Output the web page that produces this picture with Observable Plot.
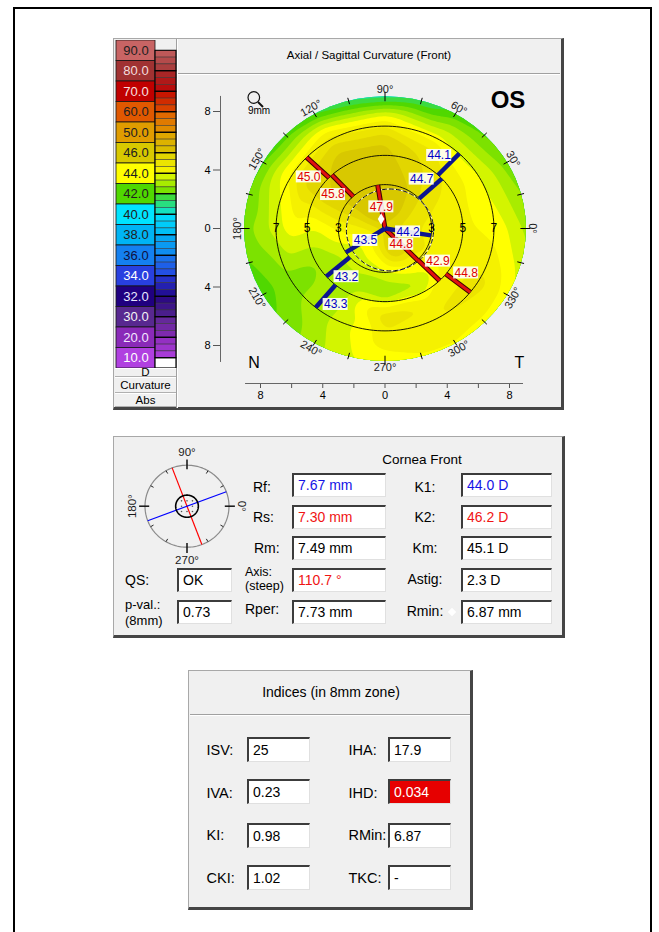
<!DOCTYPE html>
<html>
<head>
<meta charset="utf-8">
<script src="https://cdn.jsdelivr.net/npm/d3@7"></script>
<script src="https://cdn.jsdelivr.net/npm/@observablehq/plot@0.6"></script>
<style>
html,body{margin:0;padding:0;background:#fff;}
body{font-family:"Liberation Sans",Arial,sans-serif;color:#000;}
#page{position:relative;width:659px;height:932px;overflow:hidden;}
.a{position:absolute;}
.t{position:absolute;white-space:nowrap;line-height:0.85;}
.c{transform:translate(-50%,-50%);}
.l{transform:translate(0,-50%);}
.panel{position:absolute;background:#f0f0f0;box-sizing:border-box;border-top:1px solid #a8a8a8;border-left:1px solid #a8a8a8;border-right:3px solid #454545;border-bottom:3px solid #454545;}
.box{position:absolute;box-sizing:border-box;background:#fff;border-top:2px solid #3c3c3c;border-left:2px solid #3c3c3c;border-right:1px solid #e0e0e0;border-bottom:1px solid #e0e0e0;font-size:14px;padding-left:4px;white-space:nowrap;}
.sep{position:absolute;height:0;border-top:1px solid #a0a0a0;border-bottom:1px solid #fff;}
.lrow{position:absolute;box-sizing:border-box;left:115px;width:61px;background:#f0f0f0;border-top:1px solid #fff;border-bottom:1px solid #b0b0b0;font-size:11.5px;text-align:center;}
</style>
</head>
<body>
<div id="page">
  <div class="a" style="left:13px;top:7px;width:635px;height:940px;border:2px solid #000;"></div>
  <div class="panel" style="left:113px;top:38px;width:451px;height:372px;"></div>
  <div class="a" style="left:176px;top:39px;width:0;height:369px;border-left:1px solid #a0a0a0;border-right:1px solid #fff;"></div>
  <div class="sep" style="left:178px;top:73px;width:382px;"></div>
  <div class="t c" style="left:369px;top:56px;font-size:11.5px;">Axial / Sagittal Curvature (Front)</div>
  <div class="lrow" style="top:368px;height:9px;"></div>
  <div class="lrow" style="top:377px;height:16px;"></div>
  <div class="lrow" style="top:393px;height:14px;"></div>
  <div class="t c" style="left:145.5px;top:372.5px;font-size:11.5px;">D</div>
  <div class="t c" style="left:145.5px;top:386px;font-size:11.5px;">Curvature</div>
  <div class="t c" style="left:145.5px;top:400.5px;font-size:11.5px;">Abs</div>
  <div id="legend" class="a" style="left:115px;top:40px;"></div>
  <div id="map" class="a" style="left:180px;top:74px;"></div>

  <div class="panel" style="left:113px;top:436px;width:452px;height:202px;"></div>
  <div class="t c" style="left:422px;top:460px;font-size:13.5px;">Cornea Front</div>
  <div id="dial" class="a" style="left:124px;top:441px;"></div>

  <div class="panel" style="left:188px;top:670px;width:285px;height:240px;"></div>
  <div class="sep" style="left:190px;top:714px;width:280px;"></div>
  <div class="t c" style="left:331px;top:693px;font-size:14px;">Indices (in 8mm zone)</div>
</div>
<script>
// ================= DATA =================
// Colour legend (absolute curvature scale, D)
const legendValues = [90, 80, 70, 60, 50, 46, 44, 42, 40, 38, 36, 34, 32, 30, 20, 10];
const legendColors = ["#c86464","#a03232","#c00000","#e05800","#e09c00","#d8c800","#ffff00","#50d800",
                      "#00e4ff","#00b4f4","#1480f0","#2840e0","#200080","#582890","#8a2ab8","#b040e0"];
const legendTextColors = ["#202020","#f4dede","#f8e0e0","#202020","#202020","#202020","#202020","#202020",
                          "#202020","#202020","#101040","#ffffff","#e8e8ff","#f4f4f4","#f4e8ff","#ffffff"];

const sampleAngles = [0, 30, 60, 90, 120, 150, 180, 210, 240, 270, 300, 330];
const curvCenter = 45.7;
const curvR15 = [45.2, 45.6, 46.3, 47.2, 47.0, 45.9, 44.9, 44.1, 44.5, 45.6, 46.6, 46.0];
const curvR30 = [44.8, 45.2, 46.0, 46.9, 46.8, 45.9, 44.6, 43.7, 43.7, 43.9, 44.4, 45.0];
const curvR45 = [44.6, 44.9, 45.6, 46.3, 46.4, 45.9, 44.0, 43.1, 43.2, 42.9, 43.3, 44.7];
const curvR60 = [44.5, 44.5, 45.2, 46.0, 46.1, 45.6, 44.3, 42.8, 43.4, 45.4, 45.0, 45.0];
const curvR75 = [44.2, 43.8, 43.8, 44.5, 44.8, 44.2, 43.5, 42.7, 43.5, 44.8, 45.0, 45.1];
const edgeAngles = [0,15,30,45,60,75,90,105,120,135,150,165,180,195,210,225,240,255,270,285,300,315,330,345];
const curvEdge = [43.3, 42.9, 42.6, 42.3, 42.0, 41.3, 40.9, 41.1, 41.6, 42.0, 42.2, 42.4,
                  42.7, 42.4, 42.2, 42.6, 43.3, 43.9, 44.2, 44.4, 44.4, 44.3, 44.1, 43.7];

// Zone rings and pupil
const zoneRings = [3, 5, 7];
const pupilCenter = [0.32, -0.1];
const pupilRadius = 2.8;
const rminPoint = [{x: -0.25, y: 0.65}];

// Meridians: steep (red) and flat (blue) per zone
const merType  = ["steep","steep","steep","steep","steep","steep","flat","flat","flat","flat","flat","flat"];
const merR0    = [0, 0, 3, 3, 5, 5,   0, 0, 3, 3, 5, 5];
const merR1    = [3, 3, 5, 5, 7, 7,   3, 3, 5, 5, 7, 7];
const merAngle = [99, -46, 133, -45.5, 136, -38.5,   -9, 213, 43, 221, 47, 230.5];
const merValue = [47.9, 44.8, 45.8, 42.9, 45.0, 44.8,   44.2, 43.5, 44.7, 43.2, 44.1, 43.3];

// Angle labels and axis ticks
const angleTicks = [0,15,30,45,60,75,90,105,120,135,150,165,180,195,210,225,240,255,270,285,300,315,330,345];
const angleLabels = [0, 30, 60, 90, 120, 150, 180, 210, 240, 270, 300, 330];
const xTicks = [-8, -6, -4, -2, 0, 2, 4, 6, 8];
const yTicks = [-8, -4, 0, 4, 8];

// Cornea front
const steepAxis = 110.7;
const dialLabels = [90, 180, 270, 0];
const corneaLeftLabels = ["Rf:", "Rs:", "Rm:", "Axis:", "(steep)", "Rper:"];
const corneaLeftValues = ["7.67 mm", "7.30 mm", "7.49 mm", "110.7 °", "7.73 mm"];
const corneaLeftColors = ["#1414e6", "#f01414", "#000", "#f01414", "#000"];
const corneaRightLabels = ["K1:", "K2:", "Km:", "Astig:", "Rmin:"];
const corneaRightValues = ["44.0 D", "46.2 D", "45.1 D", "2.3 D", "6.87 mm"];
const corneaRightColors = ["#1414e6", "#f01414", "#000", "#000", "#000"];
const qsLabels = ["QS:", "p-val.:", "(8mm)"];
const qsValues = ["OK", "0.73"];

// Indices
const indexLeftLabels = ["ISV:", "IVA:", "KI:", "CKI:"];
const indexLeftValues = ["25", "0.23", "0.98", "1.02"];
const indexRightLabels = ["IHA:", "IHD:", "RMin:", "TKC:"];
const indexRightValues = ["17.9", "0.034", "6.87", "-"];
const indexAlert = [false, true, false, false];

// ================= BUILD =================
const FONT = "Liberation Sans, Arial, sans-serif";
const rad = a => a * Math.PI / 180;

// colour levels (main steps + 3 sub-steps between neighbours)
const levelVals = [], levelCols = [];
legendValues.forEach((v, i) => {
  levelVals.push(v); levelCols.push(legendColors[i]);
  if (i < legendValues.length - 1) {
    const v2 = legendValues[i + 1];
    for (let k = 1; k <= 3; k++) {
      levelVals.push(v - (v - v2) * k / 4);
      levelCols.push(d3.interpolateRgb(legendColors[i], legendColors[i + 1])(k / 4));
    }
  }
});
const ord = d3.range(levelVals.length).reverse();
const levelsAsc = ord.map(i => levelVals[i]);
const colorsAsc = ord.map(i => levelCols[i]);
const mapThresholds = levelsAsc.filter(v => v >= 40);

// ---------- legend ----------
const legendBlocks = legendValues.map((v, i) => ({v, i, color: legendColors[i], tc: legendTextColors[i]}));
const legendStripes = [];
legendValues.forEach((v, i) => {
  if (i < legendValues.length - 1) {
    for (let k = 1; k <= 3; k++) legendStripes.push({y1: i + 0.5 + (k - 1) / 3, y2: i + 0.5 + k / 3,
      color: d3.interpolateRgb(legendColors[i], legendColors[i + 1])(k / 4)});
  } else legendStripes.push({y1: i + 0.5, y2: i + 1, color: "#ffffff"});
});
const legendGroups = legendValues.map((v, i) => ({y1: i + 0.5, y2: Math.min(i + 1.5, legendValues.length)}));

const legend = Plot.plot({
  width: 62, height: 328, margin: 0,
  x: {domain: [0, 62], range: [0, 62], axis: null},
  y: {domain: [0, 16], range: [0, 328], axis: null},
  color: {type: "identity"},
  style: {background: "transparent", fontFamily: FONT},
  marks: [
    Plot.rect(legendBlocks, {x1: 1, x2: 40, y1: d => d.i, y2: d => d.i + 1, fill: "color", stroke: "#151515", strokeWidth: 0.8}),
    Plot.rect(legendStripes, {x1: 40, x2: 61, y1: "y1", y2: "y2", fill: "color", stroke: "#303030", strokeWidth: 0.5}),
    Plot.rect(legendGroups, {x1: 40, x2: 61, y1: "y1", y2: "y2", fill: "none", stroke: "#000", strokeWidth: 1}),
    Plot.text(legendBlocks, {x: 20.5, y: d => d.i + 0.5, text: d => d.v.toFixed(1), fill: "tc", fontSize: 13})
  ]
});
document.getElementById("legend").appendChild(legend);

// ---------- map ----------
const PXX = 249 / 16, PXY = 234 / 16;
const samples = [{x: 0, y: 0, k: curvCenter}];
[[1.5, curvR15], [3, curvR30], [4.5, curvR45], [6, curvR60], [7.5, curvR75]].forEach(([r, vals]) =>
  sampleAngles.forEach((a, i) => samples.push({x: r * Math.cos(rad(a)), y: r * Math.sin(rad(a)), k: vals[i]})));
edgeAngles.forEach((a, i) => samples.push({x: 9.2 * Math.cos(rad(a)), y: 9.2 * Math.sin(rad(a)), k: curvEdge[i]}));

const circlePts = (r, cx = 0, cy = 0, tag = r) => d3.range(0, 361, 2).map(a => ({r: tag, x: cx + r * Math.cos(rad(a)), y: cy + r * Math.sin(rad(a))}));
const ringPts = zoneRings.flatMap(r => circlePts(r));
const pupilPts = circlePts(pupilRadius, pupilCenter[0], pupilCenter[1]);

const tickData = angleTicks.map(a => {
  const big = a % 90 === 0, r0 = big ? 8.7 : 8.8, r1 = big ? 9.35 : 9.25;
  return {x1: r0 * Math.cos(rad(a)), y1: r0 * Math.sin(rad(a)), x2: r1 * Math.cos(rad(a)), y2: r1 * Math.sin(rad(a))};
});
const angleLabelData = angleLabels.map(a => ({
  x: 9.5 * Math.cos(rad(a)), y: 9.5 * Math.sin(rad(a)), text: a + "°",
  rotate: a <= 180 ? 90 - a : 270 - a
}));

const segs = merAngle.map((a, i) => {
  const r0 = merR0[i], r1 = merR1[i], rm = (r0 + r1) / 2, off = r0 === 0 ? 0 : 13;
  return {
    type: merType[i], v: merValue[i],
    x1: r0 * Math.cos(rad(a)), y1: r0 * Math.sin(rad(a)),
    x2: r1 * Math.cos(rad(a)), y2: r1 * Math.sin(rad(a)),
    lx: rm * Math.cos(rad(a)) + off * Math.cos(rad(a + 90)) / PXX,
    ly: rm * Math.sin(rad(a)) + off * Math.sin(rad(a + 90)) / PXY
  };
});
const steep = segs.filter(d => d.type === "steep"), flat = segs.filter(d => d.type === "flat");
const BW = 12.5 / PXX, BH = 6 / PXY;
const ringLabelData = zoneRings.flatMap(r => [{x: -r, r}, {x: r, r}]);

const MW = 378, MH = 333, ML = 40, MT = 15, MR = 20, MB = 24;
const XC = (80 + 329) / 2, YC = (271 + 37) / 2;
const AXIS_Y_X = (ML - XC) / PXX;          // y-axis line position (mm)
const AXIS_X_Y = (YC - (MH - MB)) / PXY;    // x-axis line position (mm)

const map = Plot.plot({
  width: MW, height: MH, marginLeft: ML, marginTop: MT, marginRight: MR, marginBottom: MB,
  x: {domain: [-8, 8], range: [80, 329], label: null},
  y: {domain: [-8, 8], range: [271, 37], label: null},
  color: {type: "threshold", domain: levelsAsc, range: [colorsAsc[0], ...colorsAsc]},
  style: {background: "transparent", fontFamily: FONT, color: "#000"},
  marks: [
    Plot.contour(samples, {x: "x", y: "y", fill: "k", interpolate: "barycentric", thresholds: mapThresholds, blur: 2}),
    Plot.line(ringPts, {x: "x", y: "y", z: "r", stroke: "#000", strokeWidth: 0.9}),
    Plot.line(pupilPts, {x: "x", y: "y", stroke: "#fff", strokeWidth: 1}),
    Plot.line(pupilPts, {x: "x", y: "y", stroke: "#000", strokeWidth: 1, strokeDasharray: "4,3"}),
    Plot.link(tickData, {x1: "x1", y1: "y1", x2: "x2", y2: "y2", stroke: "#000", strokeWidth: 1}),
    Plot.text(angleLabelData, {x: "x", y: "y", text: "text", rotate: "rotate", fontSize: 11, fill: "#1a1a1a"}),
    Plot.link(steep, {x1: "x1", y1: "y1", x2: "x2", y2: "y2", stroke: "#3a0000", strokeWidth: 5}),
    Plot.link(steep, {x1: "x1", y1: "y1", x2: "x2", y2: "y2", stroke: "#e01010", strokeWidth: 3}),
    Plot.link(flat, {x1: "x1", y1: "y1", x2: "x2", y2: "y2", stroke: "#0c1490", strokeWidth: 4.5}),
    Plot.rect(segs, {x1: d => d.lx - BW, x2: d => d.lx + BW, y1: d => d.ly - BH, y2: d => d.ly + BH, fill: "#fff", fillOpacity: 0.9}),
    Plot.text(steep, {x: "lx", y: "ly", text: d => d.v.toFixed(1), fill: "#e00000", fontSize: 12}),
    Plot.text(flat, {x: "lx", y: "ly", text: d => d.v.toFixed(1), fill: "#0000c8", fontSize: 12}),
    Plot.text(ringLabelData, {x: "x", y: 0, text: d => String(d.r), fontSize: 12, fill: "#000"}),
    Plot.dot(rminPoint, {x: "x", y: "y", symbol: "diamond", r: 3.5, fill: "#fff"}),
    Plot.text(["OS"], {frameAnchor: "top-right", dx: -30.5, dy: 10.5, textAnchor: "middle", lineAnchor: "middle", text: d => d, fontSize: 24, fontWeight: "bold"}),
    Plot.text(["N"], {frameAnchor: "bottom-left", dx: 33.5, dy: -20.5, textAnchor: "middle", lineAnchor: "middle", text: d => d, fontSize: 16}),
    Plot.text(["T"], {frameAnchor: "bottom-right", dx: -19, dy: -20.5, textAnchor: "middle", lineAnchor: "middle", text: d => d, fontSize: 16}),
    Plot.text(["9mm"], {frameAnchor: "top-left", dx: 38.5, dy: 21.5, textAnchor: "middle", lineAnchor: "middle", text: d => d, fontSize: 10}),
    Plot.axisX(xTicks, {tickSize: 5, tickPadding: 3, tickFormat: d => d % 4 === 0 ? String(Math.abs(d)) : "", fontSize: 11, label: null, stroke: "#555"}),
    Plot.axisY(yTicks, {tickSize: 7, tickPadding: 3, tickFormat: d => String(Math.abs(d)), fontSize: 11, label: null, stroke: "#555"}),
    Plot.ruleX([AXIS_Y_X], {y1: -9.16, y2: 9.03, stroke: "#666"}),
    Plot.ruleY([AXIS_X_Y], {x1: -8.96, x2: 8.9, stroke: "#666"})
  ]
});
document.getElementById("map").appendChild(map);
{
  const sx = map.scale("x"), sy = map.scale("y");
  const cx0 = sx.apply(0), cy0 = sy.apply(0);
  const svg = d3.select(map);
  svg.append("defs").append("clipPath").attr("id", "mapclip").append("ellipse")
    .attr("cx", cx0).attr("cy", cy0).attr("rx", sx.apply(9.05) - cx0).attr("ry", cy0 - sy.apply(9.05));
  svg.select('g[aria-label="contour"]').attr("clip-path", "url(#mapclip)");
  // magnifier icon
  const g = svg.append("g").attr("fill", "none").attr("stroke", "#111");
  g.append("circle").attr("cx", 73.8).attr("cy", 23.5).attr("r", 5.8).attr("stroke-width", 1.2);
  g.append("line").attr("x1", 78).attr("y1", 28).attr("x2", 83).attr("y2", 33).attr("stroke-width", 2);
}

// ---------- mini dial ----------
const DCX = 62.5, DCY = 64.7;
const dialCircle = circlePts(1);
const innerCircle = circlePts(0.27);
const dialTicksData = d3.range(0, 360, 30).map(a => {
  const big = a % 90 === 0, r0 = big ? 0.9 : 0.92, r1 = big ? 1.14 : 1.0;
  return {big, x1: r0 * Math.cos(rad(a)), y1: r0 * Math.sin(rad(a)), x2: r1 * Math.cos(rad(a)), y2: r1 * Math.sin(rad(a))};
});
const dialAxes = [{a: steepAxis, c: "#ff0000"}, {a: steepAxis - 90, c: "#0000ff"}].map(d => ({
  ...d, x1: -Math.cos(rad(d.a)), y1: -Math.sin(rad(d.a)), x2: Math.cos(rad(d.a)), y2: Math.sin(rad(d.a))}));
const innerDots = d3.cross([-0.13, 0, 0.13], [-0.13, 0, 0.13]).map(([x, y]) => ({x, y}));
const dialLabelData = dialLabels.map(a => ({x: 1.31 * Math.cos(rad(a)), y: 1.31 * Math.sin(rad(a)), text: a + "°",
  rotate: a === 180 ? -90 : a === 0 ? 90 : 0}));

const dial = Plot.plot({
  width: 124, height: 130, margin: 0,
  x: {domain: [-1, 1], range: [DCX - 42, DCX + 42], axis: null},
  y: {domain: [-1, 1], range: [DCY + 41, DCY - 41], axis: null},
  color: {type: "identity"},
  style: {background: "transparent", fontFamily: FONT},
  marks: [
    Plot.line(dialCircle, {x: "x", y: "y", stroke: "#8a8a8a", strokeWidth: 1.2}),
    Plot.link(dialTicksData.filter(d => !d.big), {x1: "x1", y1: "y1", x2: "x2", y2: "y2", stroke: "#222", strokeWidth: 1}),
    Plot.link(dialTicksData.filter(d => d.big), {x1: "x1", y1: "y1", x2: "x2", y2: "y2", stroke: "#111", strokeWidth: 1.5}),
    Plot.dot(innerDots, {x: "x", y: "y", r: 0.8, fill: "#555"}),
    Plot.link(dialAxes, {x1: "x1", y1: "y1", x2: "x2", y2: "y2", stroke: "c", strokeWidth: 1.2}),
    Plot.line(innerCircle, {x: "x", y: "y", stroke: "#000", strokeWidth: 1.6}),
    Plot.text(dialLabelData, {x: "x", y: "y", text: "text", rotate: "rotate", fontSize: 11.5, fill: "#1a1a1a"})
  ]
});
document.getElementById("dial").appendChild(dial);

// ---------- HTML fields ----------
function addText(parent, txt, x, y, size, align, color) {
  const d = document.createElement("div");
  d.className = "t " + (align === "c" ? "c" : "l");
  d.style.left = x + "px"; d.style.top = y + "px"; d.style.fontSize = size + "px";
  if (color) d.style.color = color;
  d.textContent = txt; parent.appendChild(d);
}
function addBox(parent, txt, x, y, w, h, color, bg) {
  const d = document.createElement("div");
  d.className = "box";
  d.style.left = x + "px"; d.style.top = y + "px"; d.style.width = w + "px"; d.style.height = h + "px";
  d.style.lineHeight = (h - 3) + "px";
  if (color) d.style.color = color;
  if (bg) d.style.background = bg;
  d.textContent = txt; parent.appendChild(d);
}
const page = document.getElementById("page");
// cornea front
const rowTops = [473, 505, 536, 568, 600];
const leftLabelPos = [[253, 487.5, 14], [253, 517.5, 14], [254, 549, 14], [245, 571.5, 12.5], [245, 586.3, 12.5], [245, 610, 14]];
corneaLeftLabels.forEach((t, i) => addText(page, t, leftLabelPos[i][0], leftLabelPos[i][1], leftLabelPos[i][2], "l"));
corneaLeftValues.forEach((t, i) => addBox(page, t, 292, rowTops[i], 94, 24, corneaLeftColors[i]));
const rightLabelY = [487.5, 517.5, 549, 580, 612];
corneaRightLabels.forEach((t, i) => addText(page, t, 425, rightLabelY[i], 14, "c"));
corneaRightValues.forEach((t, i) => addBox(page, t, 461, rowTops[i], 91, 24, corneaRightColors[i]));
const qsLabelPos = [[125, 580.5, 14], [125, 605.3, 13], [125, 620.5, 13]];
qsLabels.forEach((t, i) => addText(page, t, qsLabelPos[i][0], qsLabelPos[i][1], qsLabelPos[i][2], "l"));
qsValues.forEach((t, i) => addBox(page, t, 177, rowTops[3 + i], 55, 24));
{
  const dm = document.createElement("div");
  dm.className = "a";
  Object.assign(dm.style, {left: "449px", top: "608.5px", width: "6px", height: "6px", background: "#fff", transform: "rotate(45deg)"});
  page.appendChild(dm);
}
// indices
const idxTops = [737, 779, 823, 865];
const idxLabelY = [749.5, 792.5, 835, 878];
indexLeftLabels.forEach((t, i) => addText(page, t, 206.5, idxLabelY[i], 14.5, "l"));
indexLeftValues.forEach((t, i) => addBox(page, t, 247, idxTops[i], 63, 25));
indexRightLabels.forEach((t, i) => addText(page, t, 348.5, idxLabelY[i], 14.5, "l"));
indexRightValues.forEach((t, i) => addBox(page, t, 388, idxTops[i], 63, 25, indexAlert[i] ? "#fff" : null, indexAlert[i] ? "#e60000" : null));
</script>
</body>
</html>
